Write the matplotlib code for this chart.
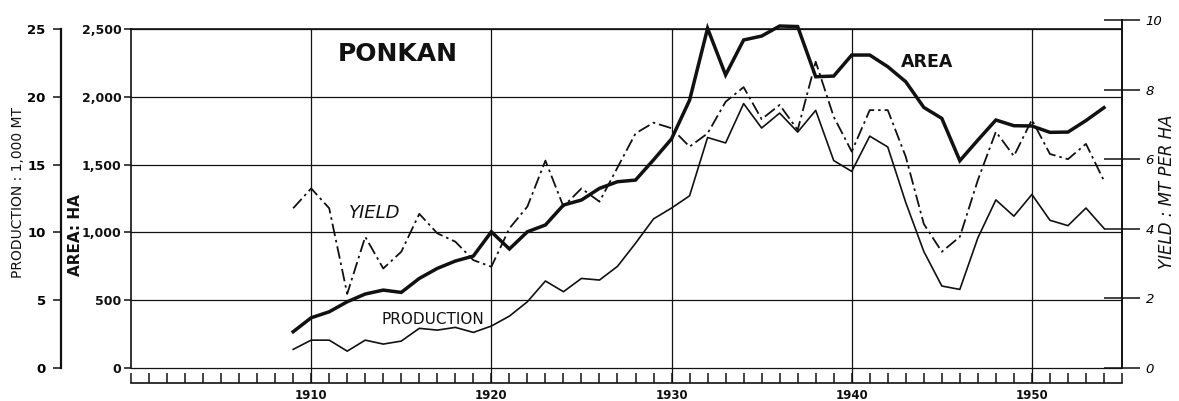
import matplotlib.pyplot as plt
from matplotlib.ticker import FixedLocator, MultipleLocator, NullFormatter

# Ponkan: bearing area, production and yield, 1909-1954
years = list(range(1909, 1955))

area_ha = [268, 371, 415, 489, 546, 575, 558, 661, 735, 789,
           826, 1005, 878, 1005, 1055, 1202, 1239, 1325, 1374, 1386,
           1535, 1690, 1975, 2505, 2161, 2419, 2448, 2522, 2518, 2148,
           2153, 2308, 2308, 2222, 2111, 1922, 1841, 1529, 1681, 1829,
           1787, 1785, 1738, 1740, 1825, 1920]

production_kmt = [1.38, 2.06, 2.06, 1.25, 2.06, 1.77, 1.99, 2.93, 2.80, 3.00,
                  2.63, 3.10, 3.83, 4.89, 6.42, 5.63, 6.61, 6.49, 7.50, 9.20,
                  11.0, 11.8, 12.7, 17.0, 16.6, 19.5, 17.7, 18.8, 17.4, 19.0,
                  15.3, 14.5, 17.1, 16.3, 12.2, 8.6, 6.05, 5.8, 9.6, 12.4,
                  11.2, 12.8, 10.9, 10.5, 11.8, 10.3]

yield_mt_ha = [4.59, 5.16, 4.59, 2.13, 3.77, 2.86, 3.34, 4.43, 3.87, 3.63,
               3.10, 2.91, 4.01, 4.64, 5.96, 4.64, 5.16, 4.78, 5.76, 6.74,
               7.05, 6.89, 6.36, 6.74, 7.65, 8.07, 7.15, 7.56, 6.84, 8.80,
               7.22, 6.22, 7.41, 7.41, 6.07, 4.14, 3.34, 3.77, 5.40, 6.79,
               6.09, 7.13, 6.15, 6.00, 6.44, 5.38]

area_ticks = [0, 500, 1000, 1500, 2000, 2500]
area_tick_labels = ['0', '500', '1,000', '1,500', '2,000', '2,500']
prod_ticks = [0, 5, 10, 15, 20, 25]
yield_ticks = [0, 2, 4, 6, 8, 10]
decades = [1910, 1920, 1930, 1940, 1950]

W, H = 1179, 401
INK = '#111111'
plt.rcParams['font.family'] = ['DejaVu Sans']

fig = plt.figure(figsize=(W / 100, H / 100), dpi=100)


def fx(x):
    return x / W


def fy(y):
    return 1 - y / H


# plot frame in pixels: left/right spines, tick baseline and top of frame
x_left, x_right = 131, 1122
y_base, y_top, y_yield_top = 383, 29, 20

ax = fig.add_axes([fx(x_left), fy(y_base), (x_right - x_left) / W, (y_base - y_top) / H])
ax.set_xlim(1900, 1955)
ax.set_ylim(-110, 2500)

ax.spines['right'].set_visible(False)
ax.spines['left'].set_bounds(0, 2500)
for s in ax.spines.values():
    s.set_linewidth(1.2)
    s.set_color(INK)

ax.xaxis.set_major_locator(FixedLocator(decades))
ax.xaxis.set_minor_locator(MultipleLocator(1))
ax.xaxis.set_minor_formatter(NullFormatter())
ax.tick_params(axis='x', which='both', direction='in', length=7, width=1.1,
               color=INK, pad=4, labelsize=8.5)
ax.set_yticks(area_ticks)
ax.set_yticklabels(area_tick_labels)
ax.tick_params(axis='y', direction='out', length=5, width=1.1, color=INK,
               pad=2, labelsize=9)
for lab in ax.get_xticklabels() + ax.get_yticklabels():
    lab.set_fontweight('bold')
    lab.set_color(INK)

ax.grid(True, which='major', color=INK, linewidth=0.9)
ax.plot(years, area_ha, color=INK, lw=2.5, solid_joinstyle='miter',
        clip_on=False, zorder=4)

# production scale on the far left, same height as the area scale
ax_p = ax.twinx()
ax_p.set_ylim(-1.10, 25)
for s in ['right', 'top', 'bottom']:
    ax_p.spines[s].set_visible(False)
ax_p.spines['left'].set_visible(True)
ax_p.spines['left'].set_position(('outward', 50.4))
ax_p.spines['left'].set_bounds(0, 25)
ax_p.spines['left'].set_linewidth(1.6)
ax_p.spines['left'].set_color(INK)
ax_p.yaxis.set_ticks_position('left')
ax_p.set_yticks(prod_ticks)
ax_p.tick_params(axis='y', direction='out', length=6, width=1.1, color=INK,
                 pad=5, labelsize=9.5)
for lab in ax_p.get_yticklabels():
    lab.set_fontweight('bold')
ax_p.plot(years, production_kmt, color=INK, lw=1.2, zorder=3)

# yield scale on the right, its 10 mark sits a little above the frame
ax_y = fig.add_axes([fx(x_left), fy(y_base), (x_right - x_left) / W,
                     (y_base - y_yield_top) / H])
ax_y.patch.set_visible(False)
ax_y.set_xlim(1900, 1955)
ax_y.set_ylim(-15 / 34.8, 10)
for s in ['left', 'top', 'bottom']:
    ax_y.spines[s].set_visible(False)
ax_y.spines['right'].set_bounds(0, 10)
ax_y.spines['right'].set_linewidth(1.4)
ax_y.spines['right'].set_color(INK)
ax_y.set_xticks([])
ax_y.yaxis.tick_right()
ax_y.set_yticks(yield_ticks)
ax_y.tick_params(axis='y', direction='inout', length=26, width=1.1, color=INK,
                 pad=4, labelsize=9.5)
for lab in ax_y.get_yticklabels():
    lab.set_fontstyle('italic')
ax_y.plot(years, yield_mt_ha, color=INK, lw=1.3,
          linestyle=(0, (7, 2.2, 1.4, 2.2)), zorder=3)

# axis titles and series labels
fig.text(fx(18), fy(192), 'PRODUCTION : 1,000 MT', rotation=90,
         ha='center', va='center', fontsize=10, color=INK)
fig.text(fx(76), fy(235), 'AREA: HA', rotation=90, ha='center', va='center',
         fontsize=11, fontweight='bold', color=INK)
fig.text(fx(1167), fy(192), 'YIELD : MT PER HA', rotation=90, ha='center',
         va='center', fontsize=12, fontstyle='italic', color=INK)

fig.text(fx(398), fy(54), 'PONKAN', ha='center', va='center',
         fontsize=18, fontweight='bold', color=INK)
fig.text(fx(927), fy(62), 'AREA', ha='center', va='center',
         fontsize=12.5, fontweight='bold', color=INK)
fig.text(fx(375), fy(213), 'YIELD', ha='center', va='center',
         fontsize=13, fontstyle='italic', color=INK)
fig.text(fx(433), fy(320), 'PRODUCTION', ha='center', va='center',
         fontsize=11, color=INK)

fig.savefig('out.png', dpi=100)
